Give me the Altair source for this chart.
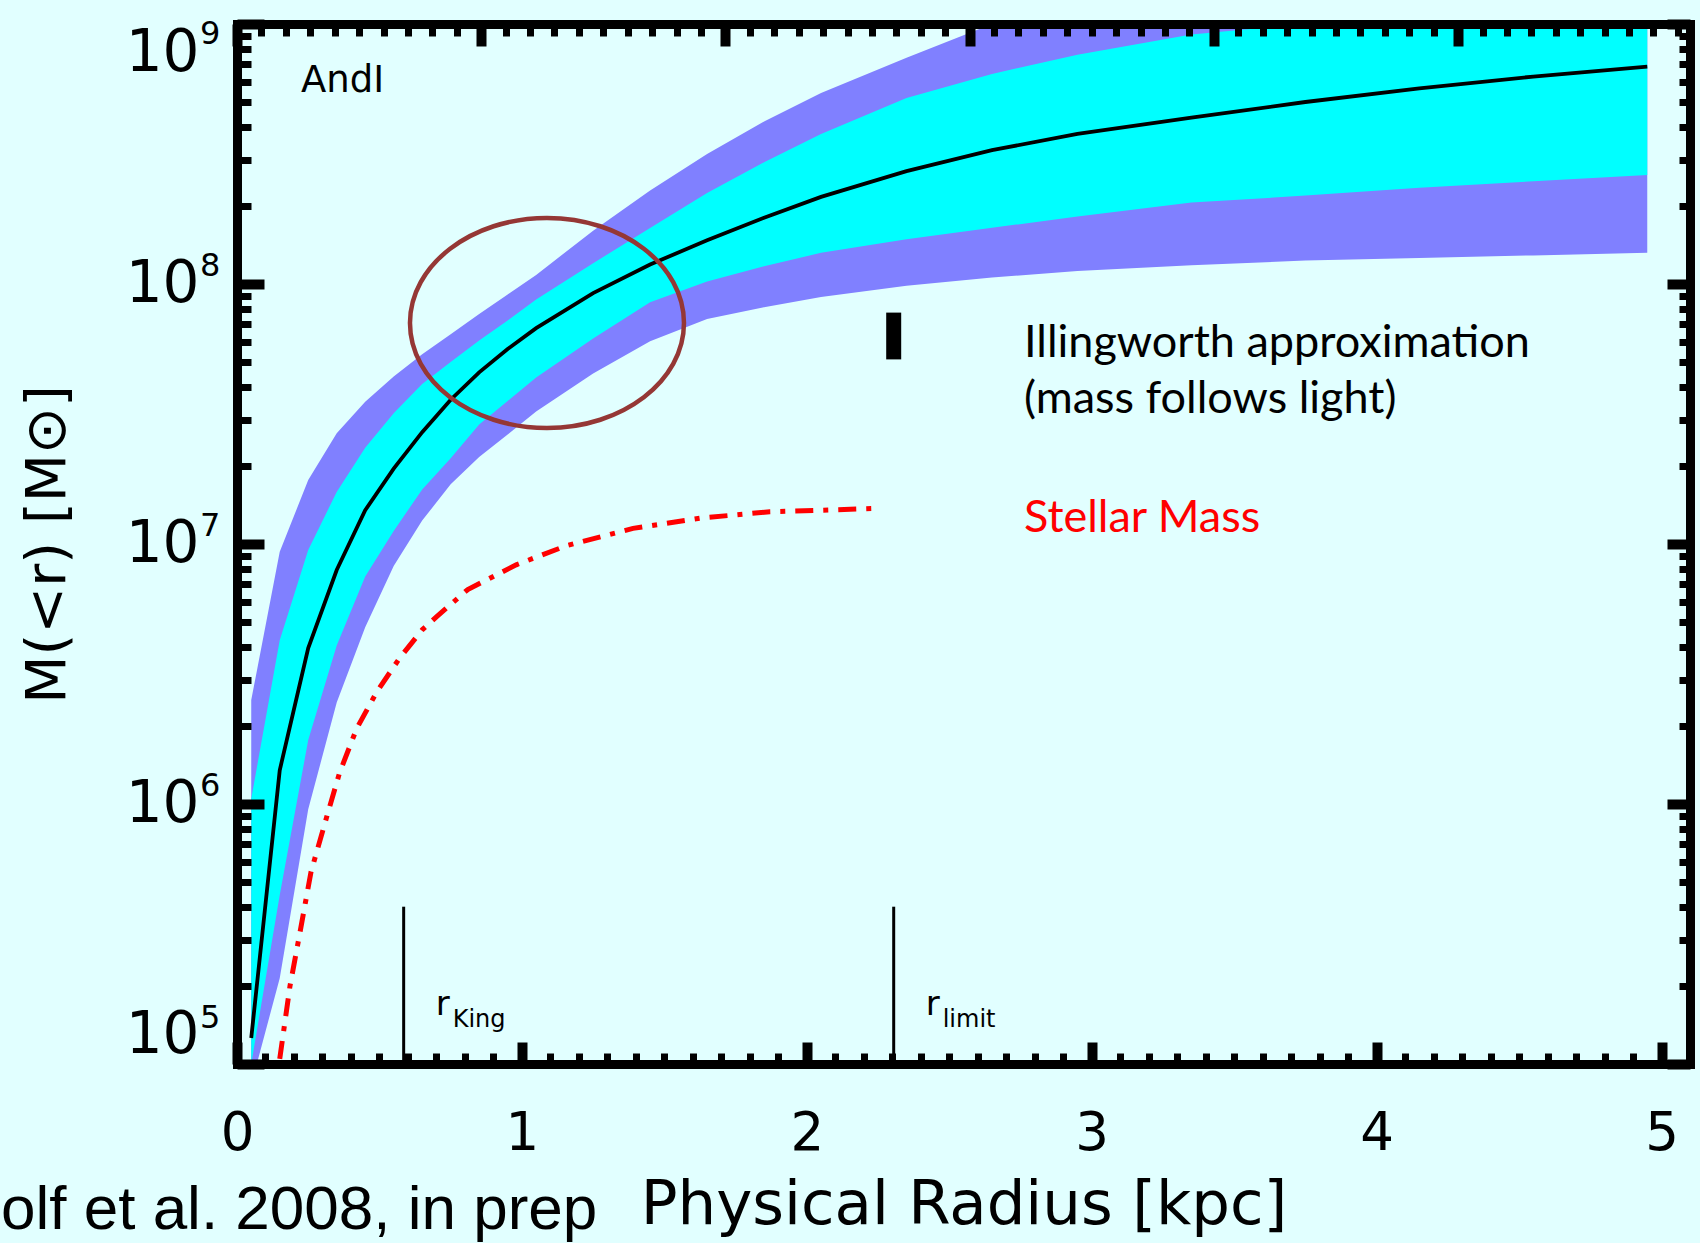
import altair as alt
import pandas as pd

# ---------------- data ----------------
# radius grid of the mass profile (kpc)
R_KPC = [0.05, 0.15, 0.25, 0.35, 0.45, 0.55, 0.65, 0.75, 0.85, 0.95, 1.05,
         1.25, 1.45, 1.65, 1.85, 2.05, 2.35, 2.65, 2.95, 3.35, 3.75, 4.15, 4.55, 4.95]
# log10 M(<r) [Msun]
LOG_MEDIAN = [5.10, 6.13, 6.60, 6.90, 7.13, 7.29, 7.43, 7.555, 7.66, 7.75, 7.83,
              7.965, 8.075, 8.168, 8.255, 8.335, 8.434, 8.515, 8.577, 8.64, 8.70, 8.752, 8.798, 8.836]
LOG_INNER_HI = [6.02, 6.63, 6.977, 7.20, 7.37, 7.503, 7.615, 7.70, 7.783, 7.86, 7.94,
                8.08, 8.215, 8.35, 8.468, 8.577, 8.715, 8.808, 8.882, 8.96, 9.0, 9.0, 9.0, 9.0]
LOG_INNER_LO = [5.00, 5.65, 6.246, 6.61, 6.875, 7.05, 7.21, 7.33, 7.46, 7.55, 7.64,
                7.79, 7.93, 8.01, 8.068, 8.12, 8.172, 8.216, 8.26, 8.313, 8.34, 8.37, 8.395, 8.419]
LOG_OUTER_HI = [6.40, 6.97, 7.246, 7.426, 7.547, 7.644, 7.73, 7.807, 7.885, 7.96, 8.035,
                8.205, 8.36, 8.50, 8.625, 8.735, 8.87, 9.0, 9.0, 9.0, 9.0, 9.0, 9.0, 9.0]
LOG_OUTER_LO = [4.92, 5.33, 5.98, 6.39, 6.68, 6.915, 7.09, 7.23, 7.335, 7.421, 7.51,
                7.656, 7.78, 7.865, 7.911, 7.95, 7.993, 8.025, 8.05, 8.072, 8.09, 8.10, 8.11, 8.12]

# stellar mass profile
R_STAR = [0.15, 0.186, 0.22, 0.26, 0.32, 0.36, 0.42, 0.49, 0.57, 0.65, 0.70,
          0.81, 0.98, 1.16, 1.39, 1.63, 1.87, 2.05, 2.25]
LOG_STAR = [5.02, 5.30, 5.50, 5.74, 5.97, 6.12, 6.29, 6.43, 6.56, 6.67, 6.72,
            6.825, 6.92, 6.995, 7.06, 7.10, 7.124, 7.13, 7.137]

# characteristic radii (kpc) and marker lengths
RADII_R = [0.585, 2.305]
RADII_SUB = ["King", "limit"]
RADII_LOG_TOP = 5.605
# Illingworth estimate (vertical bar)
ILL_R = 2.305
ILL_LOG = [7.71, 7.89]
# highlighted region (ellipse centre)
ELL_R = 1.088
ELL_LOG = 7.85

X_LABEL_VALUES = [0, 1, 2, 3, 4, 5]
Y_LABEL_VALUES = [1e5, 1e6, 1e7, 1e8, 1e9]
Y_LABEL_EXPONENTS = ["5", "6", "7", "8", "9"]
X_TICKS = [round(i * 0.1, 2) for i in range(0, 51)]
TOP_STEP = 0.8572
TOP_TICKS = [round(i * TOP_STEP / 10, 5) for i in range(0, 60)]
Y_TICKS = [k * 10 ** e for e in range(5, 9) for k in range(1, 10)] + [1e9]

# ---------------- frames ----------------
band = pd.DataFrame({
    "r": R_KPC,
    "median": [10 ** v for v in LOG_MEDIAN],
    "in_lo": [10 ** v for v in LOG_INNER_LO],
    "in_hi": [10 ** v for v in LOG_INNER_HI],
    "out_lo": [10 ** v for v in LOG_OUTER_LO],
    "out_hi": [10 ** v for v in LOG_OUTER_HI],
})
star = pd.DataFrame({"r": R_STAR, "m": [10 ** v for v in LOG_STAR]})
radii = pd.DataFrame({"r": RADII_R, "y0": [1e5, 1e5], "y1": [10 ** RADII_LOG_TOP] * 2,
                      "sub": RADII_SUB})
ill = pd.DataFrame({"r": [ILL_R], "lo": [10 ** ILL_LOG[0]], "hi": [10 ** ILL_LOG[1]]})
ell = pd.DataFrame({"r": [ELL_R], "m": [10 ** ELL_LOG]})
expo = pd.DataFrame({"m": Y_LABEL_VALUES, "e": Y_LABEL_EXPONENTS})

W, H = 1453, 1040
XS = alt.Scale(domain=[0, 5.1], nice=False, zero=False)
YS = alt.Scale(type="log", domain=[1e5, 1e9], nice=False)

FONT = "DejaVu Sans"
X_MAJOR = "abs(datum.value - round(datum.value)) < 0.001"
TOP_MAJOR = f"abs(datum.value / {TOP_STEP} - round(datum.value / {TOP_STEP})) < 0.001"
Y_MAJOR = "abs(log(datum.value) / LN10 - round(log(datum.value) / LN10)) < 0.001"


def tick_axis(orient, offset, values, test, major_len, minor_len):
    return alt.Axis(
        orient=orient, offset=offset, values=values, labels=False, title=None,
        domain=True, domainWidth=9, domainColor="black", domainCap="square",
        ticks=True, tickSize=major_len, tickColor="black",
        tickWidth={"condition": {"test": test, "value": 10}, "value": 7},
        tickDash={"condition": {"test": test, "value": [1000, 1]},
                  "value": [minor_len, 1000]},
        grid=False, zindex=1,
    )


x_label_axis = alt.Axis(
    orient="bottom", values=X_LABEL_VALUES, format="d", labelFont=FONT,
    labelFontSize=53, labelColor="black", labelPadding=43, labelFlush=False,
    ticks=False, tickSize=0, domain=False, grid=False,
    title="Physical Radius [kpc]", titleFont=FONT, titleFontSize=61,
    titleFontWeight="normal", titleColor="black", titleBaseline="alphabetic",
    titleY=159,
)
y_label_axis = alt.Axis(
    orient="left", values=Y_LABEL_VALUES, labelExpr="'10'",
    labelFont=FONT, labelFontSize=58, labelColor="black", labelPadding=38,
    labelFlush=True, ticks=False, tickSize=0, domain=False, grid=False,
    title="M(<r) [M⊙]", titleFont=FONT, titleFontSize=56, titleFontWeight="normal",
    titleColor="black", titleX=-190, titleY=H / 2, titleAngle=270,
    titleAlign="center", titleBaseline="middle",
)

base = alt.Chart(band)

outer = base.mark_area(color="#8080ff", opacity=1, clip=True).encode(
    x=alt.X("r:Q", scale=XS, axis=x_label_axis),
    y=alt.Y("out_lo:Q", scale=YS, axis=y_label_axis),
    y2="out_hi:Q",
)
inner = base.mark_area(color="#00ffff", opacity=1, clip=True).encode(
    x=alt.X("r:Q", scale=XS, axis=tick_axis("top", -H, X_TICKS, X_MAJOR, 22, 11)),
    y=alt.Y("in_lo:Q", scale=YS, axis=tick_axis("right", -W, Y_TICKS, Y_MAJOR, 27, 14)),
    y2="in_hi:Q",
)
median = base.mark_line(color="black", strokeWidth=3.8, clip=True).encode(
    x=alt.X("r:Q", scale=XS, axis=tick_axis("bottom", -H, TOP_TICKS, TOP_MAJOR, 22, 12)),
    y=alt.Y("median:Q", scale=YS, axis=tick_axis("left", -W, Y_TICKS, Y_MAJOR, 23, 11)),
)
stellar = alt.Chart(star).mark_line(
    color="#ff0000", strokeWidth=5, strokeDash=[18, 10, 5, 10], clip=True
).encode(
    x=alt.X("r:Q", scale=XS, axis=None),
    y=alt.Y("m:Q", scale=YS, axis=None),
)
radius_lines = alt.Chart(radii).mark_rule(color="black", strokeWidth=3).encode(
    x=alt.X("r:Q", scale=XS, axis=None),
    y=alt.Y("y0:Q", scale=YS, axis=None),
    y2="y1:Q",
)
radius_r = alt.Chart(radii).mark_text(
    align="left", baseline="alphabetic", font=FONT, fontSize=34, dx=32, color="black"
).encode(x=alt.X("r:Q", scale=XS, axis=None), y=alt.value(991), text=alt.value("r"))
radius_sub = alt.Chart(radii).mark_text(
    align="left", baseline="alphabetic", font=FONT, fontSize=24, dx=49, color="black"
).encode(x=alt.X("r:Q", scale=XS, axis=None), y=alt.value(1003), text="sub:N")

ill_bar = alt.Chart(ill).mark_rule(color="black", strokeWidth=15, strokeCap="butt").encode(
    x=alt.X("r:Q", scale=XS, axis=None),
    y=alt.Y("lo:Q", scale=YS, axis=None),
    y2="hi:Q",
)

K = 0.5523
B = 105 / 137
ELLIPSE_PATH = (
    f"M -1 0 C -1 {-K*B:.4f} {-K:.4f} {-B:.4f} 0 {-B:.4f} "
    f"C {K:.4f} {-B:.4f} 1 {-K*B:.4f} 1 0 "
    f"C 1 {K*B:.4f} {K:.4f} {B:.4f} 0 {B:.4f} "
    f"C {-K:.4f} {B:.4f} -1 {K*B:.4f} -1 0 Z"
)
ellipse = alt.Chart(ell).mark_point(
    shape=ELLIPSE_PATH, size=274 * 274, filled=False, stroke="#953735",
    strokeWidth=4.5, opacity=1,
).encode(
    x=alt.X("r:Q", scale=XS, axis=None),
    y=alt.Y("m:Q", scale=YS, axis=None),
)


# exponents of the y tick labels (superscripts next to the axis "10")
def exponent_layer(test, dy):
    return alt.Chart(expo).transform_filter(test).mark_text(
        align="left", baseline="alphabetic", font=FONT, fontSize=32, dy=dy,
        color="black",
    ).encode(
        x=alt.value(-37),
        y=alt.Y("m:Q", scale=YS, axis=None),
        text="e:N",
    )


exponents = [
    exponent_layer("datum.m > 5e8", 20),
    exponent_layer("datum.m > 5e5 && datum.m < 5e8", -8),
    exponent_layer("datum.m < 5e5", -36),
]


def label(text, x, y, size, font, color="black"):
    return alt.Chart(pd.DataFrame({"t": [text]})).mark_text(
        align="left", baseline="alphabetic", font=font, fontSize=size, color=color
    ).encode(x=alt.value(x), y=alt.value(y), text="t:N")


texts = [
    label("AndI", 64, 68, 37, FONT),
    label("Illingworth approximation", 787, 333, 45, "Lato"),
    label("(mass follows light)", 787, 389, 45, "Lato"),
    label("Stellar Mass", 787, 508, 45, "Lato", "#ff0000"),
    label("olf et al. 2008, in prep", -236, 1205, 62, "Liberation Sans"),
]

chart = alt.layer(
    outer, inner, median, stellar, radius_lines, radius_r, radius_sub, ill_bar, ellipse,
    *exponents, *texts,
).resolve_axis(
    x="independent", y="independent"
).properties(
    width=W, height=H,
    padding={"left": 237, "top": 24, "right": 10, "bottom": 179},
    autosize=alt.AutoSizeParams(type="none"),
    background="#e1ffff",
).configure_view(stroke=None)

chart.save("out.html", embed_options={"renderer": "svg", "actions": False})
